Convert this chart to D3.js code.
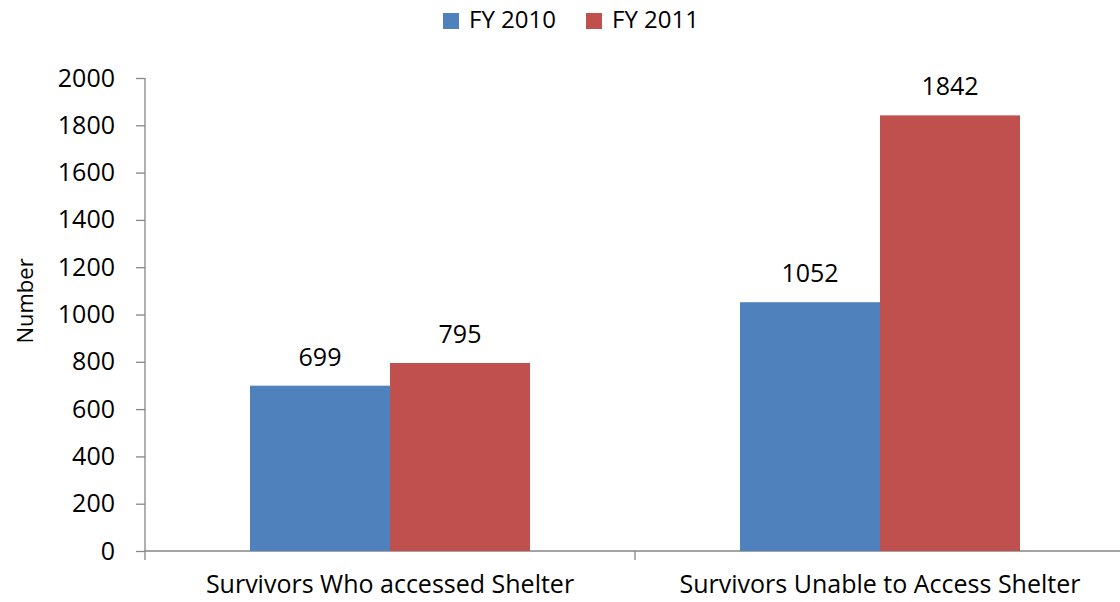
<!DOCTYPE html>
<html>
<head>
<meta charset="utf-8">
<style>
  body { margin: 0; background: #fff; }
  svg { font-family: "Open Sans", Lato, sans-serif; }
</style>
</head>
<body>
<svg width="1120" height="602"></svg>
<script src="https://d3js.org/d3.v7.min.js"></script>
<script>
    var categories = ["Survivors Who accessed Shelter", "Survivors Unable to Access Shelter"];
    var seriesNames = ["FY 2010", "FY 2011"];
    var fy2010 = [699, 1052];
    var fy2011 = [795, 1842];
    var yTicks = [0, 200, 400, 600, 800, 1000, 1200, 1400, 1600, 1800, 2000];
    var colors = ["#4f81bd", "#c0504d"];

    var svg = d3.select("svg"),
        margin = {top: 78, right: -5, bottom: 51, left: 145},
        width = +svg.attr("width") - margin.left - margin.right,
        height = +svg.attr("height") - margin.top - margin.bottom;

    var data = categories.map(function (c, i) {
        return {cat: c, values: [fy2010[i], fy2011[i]]};
    });

    var x0 = d3.scaleBand()
        .domain(categories)
        .range([0, width])
        .paddingInner(210 / 490)
        .paddingOuter(105 / 490);

    var x1 = d3.scaleBand()
        .domain(seriesNames)
        .range([0, x0.bandwidth()]);

    var y = d3.scaleLinear()
        .domain([0, 2000])
        .range([height, 0]);

    var g = svg.append("g")
        .attr("transform", "translate(" + margin.left + "," + margin.top + ")");

    // y axis
    var yAxis = g.append("g")
        .call(d3.axisLeft(y).tickValues(yTicks).tickFormat(d3.format("d")).tickSize(9).tickPadding(21));
    yAxis.selectAll("path, line").attr("stroke", "#868686").attr("stroke-width", 1.3);
    yAxis.select(".domain").attr("d", "M0," + height + "V0");
    yAxis.selectAll("text")
        .attr("font-size", 25)
        .attr("fill", "#000")
        .style("font-family", "'Open Sans', Lato, sans-serif");

    // x axis line and category separators
    g.append("line")
        .attr("x1", 0).attr("x2", width)
        .attr("y1", height).attr("y2", height)
        .attr("stroke", "#868686").attr("stroke-width", 1.3);

    var step = x0.step();
    var seps = [0, step, 2 * step];
    g.selectAll("line.sep")
        .data(seps)
        .enter().append("line")
        .attr("class", "sep")
        .attr("x1", function (d) { return d; })
        .attr("x2", function (d) { return d; })
        .attr("y1", height)
        .attr("y2", height + 9)
        .attr("stroke", "#868686").attr("stroke-width", 1.3);

    // bars
    var groups = g.selectAll("g.group")
        .data(data)
        .enter().append("g")
        .attr("class", "group")
        .attr("transform", function (d) { return "translate(" + x0(d.cat) + ",0)"; });

    groups.selectAll("rect")
        .data(function (d) { return d.values.map(function (v, i) { return {s: seriesNames[i], v: v, i: i}; }); })
        .enter().append("rect")
        .attr("x", function (d) { return x1(d.s); })
        .attr("y", function (d) { return y(d.v); })
        .attr("width", x1.bandwidth())
        .attr("height", function (d) { return height - y(d.v); })
        .attr("fill", function (d) { return colors[d.i]; });

    groups.selectAll("text.val")
        .data(function (d) { return d.values.map(function (v, i) { return {s: seriesNames[i], v: v}; }); })
        .enter().append("text")
        .attr("class", "val")
        .attr("x", function (d) { return x1(d.s) + x1.bandwidth() / 2; })
        .attr("y", function (d) { return y(d.v) - 20; })
        .attr("text-anchor", "middle")
        .attr("font-size", 25)
        .text(function (d) { return d.v; });

    // category labels
    g.selectAll("text.cat")
        .data(categories)
        .enter().append("text")
        .attr("class", "cat")
        .attr("x", function (d) { return x0(d) + x0.bandwidth() / 2; })
        .attr("y", height + 42)
        .attr("text-anchor", "middle")
        .attr("font-size", 25)
        .text(function (d) { return d; });

    // y label
    svg.append("text")
        .attr("transform", "translate(33,301) rotate(-90)")
        .attr("text-anchor", "middle")
        .attr("font-size", 22)
        .text("Number");

    // legend
    var legend = svg.append("g").attr("transform", "translate(443,13)");
    var items = legend.selectAll("g")
        .data(seriesNames)
        .enter().append("g")
        .attr("transform", function (d, i) { return "translate(" + (i * 143) + ",0)"; });
    items.append("rect")
        .attr("width", 16).attr("height", 16)
        .attr("fill", function (d, i) { return colors[i]; });
    items.append("text")
        .attr("x", 26).attr("y", 15)
        .attr("font-size", 24)
        .text(function (d) { return d; });
</script>
</body>
</html>
